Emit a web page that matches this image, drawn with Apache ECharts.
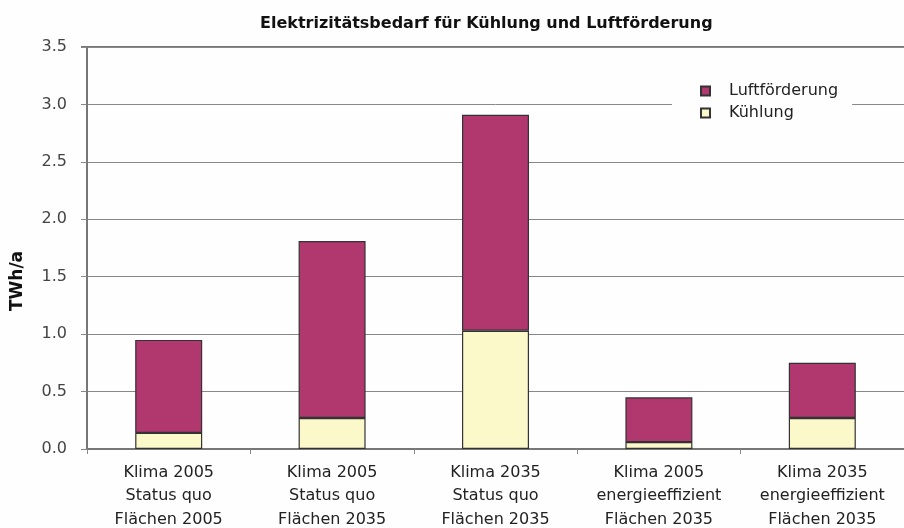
<!DOCTYPE html>
<html>
<head>
<meta charset="utf-8">
<script src="https://cdn.jsdelivr.net/npm/echarts@6/dist/echarts.min.js"></script>
<style>
  html, body { margin: 0; padding: 0; background: #fefefe; }
  #chart { width: 904px; height: 528px; }
</style>
</head>
<body>
<div id="chart"></div>
<script>
// Kategorien (Szenarien)
const categories = [
  'Klima 2005\nStatus quo\nFlächen 2005',
  'Klima 2005\nStatus quo\nFlächen 2035',
  'Klima 2035\nStatus quo\nFlächen 2035',
  'Klima 2005\nenergieeffizient\nFlächen 2035',
  'Klima 2035\nenergieeffizient\nFlächen 2035'
]
// TWh/a
const kuehlung = [0.14, 0.27, 1.03, 0.06, 0.27]
const luftfoerderung = [0.81, 1.54, 1.88, 0.39, 0.48]
const yTicks = { min: 0, max: 3.5, interval: 0.5 }

const font = 'DejaVu Sans'
const myChart = echarts.init(document.getElementById('chart'))

myChart.setOption({
  backgroundColor: '#fefefe',
  animation: false,
  title: {
    text: 'Elektrizitätsbedarf für Kühlung und Luftförderung',
    left: 255,
    top: 11,
    textStyle: { fontFamily: font, fontSize: 16, fontWeight: 'bold', color: '#111' }
  },
  legend: {
    data: ['Luftförderung', 'Kühlung'],
    orient: 'vertical',
    left: 672,
    top: 81,
    padding: [2, 14, 2, 28],
    backgroundColor: '#fefefe',
    icon: 'rect',
    itemWidth: 9,
    itemHeight: 9,
    itemGap: 6,
    textStyle: { fontFamily: font, fontSize: 16, color: '#222', padding: [0, 0, 0, 14] }
  },
  grid: { left: 87, right: 0, top: 47, bottom: 79, outerBoundsMode: 'none' },
  xAxis: {
    type: 'category',
    data: categories,
    axisLine: { lineStyle: { color: '#777', width: 2 } },
    axisTick: { show: true, length: 5, lineStyle: { color: '#888' } },
    axisLabel: { fontFamily: font, fontSize: 16, color: '#222', lineHeight: 23.5, margin: 12 }
  },
  yAxis: {
    type: 'value',
    min: yTicks.min,
    max: yTicks.max,
    interval: yTicks.interval,
    axisLine: { show: true, lineStyle: { color: '#777', width: 2 } },
    axisTick: { show: true, length: 6, lineStyle: { color: '#888' } },
    axisLabel: {
      fontFamily: font, fontSize: 16, color: '#444', margin: 20,
      formatter: v => v.toFixed(1)
    },
    splitLine: { show: true, lineStyle: { color: '#888', width: 1 } }
  },
  graphic: [
    {
      type: 'text',
      x: 18,
      y: 281,
      rotation: Math.PI / 2,
      style: {
        text: 'TWh/a',
        fontFamily: font, fontSize: 17, fontWeight: 'bold', fill: '#111',
        align: 'center', verticalAlign: 'middle'
      }
    },
    {
      // dickere obere Rahmenlinie bei 3.5
      type: 'line',
      shape: { x1: 81, y1: 47, x2: 904, y2: 47 },
      style: { stroke: '#777', lineWidth: 2 }
    }
  ],
  series: [
    {
      name: 'Kühlung',
      type: 'bar',
      stack: 'gesamt',
      barWidth: '41%',
      data: kuehlung,
      itemStyle: { color: '#fbf8c9', borderColor: '#333', borderWidth: 1.2 }
    },
    {
      name: 'Luftförderung',
      type: 'bar',
      stack: 'gesamt',
      barWidth: '41%',
      data: luftfoerderung,
      itemStyle: { color: '#b1376f', borderColor: '#333', borderWidth: 1.2 }
    }
  ]
})
</script>
</body>
</html>
